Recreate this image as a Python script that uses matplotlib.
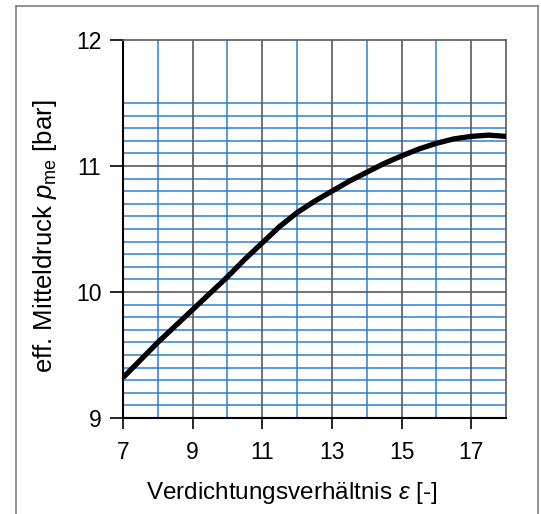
import matplotlib
matplotlib.use("Agg")
import matplotlib.pyplot as plt
from matplotlib.lines import Line2D

# Data
eps = [7, 7.5, 8, 8.5, 9, 9.5, 10, 10.5, 11, 11.5, 12, 12.5, 13, 13.5, 14,
       14.5, 15, 15.5, 16, 16.5, 17, 17.5, 18]
pme = [9.32, 9.46, 9.60, 9.73, 9.86, 9.99, 10.12, 10.26, 10.39, 10.52, 10.63,
       10.72, 10.80, 10.88, 10.95, 11.02, 11.08, 11.135, 11.18, 11.215, 11.235,
       11.245, 11.235]

x_ticks = [7, 9, 11, 13, 15, 17]
y_ticks = [9, 10, 11, 12]
x_major_grid = [9, 11, 13, 15, 17]
x_minor_grid = [8, 10, 12, 14, 16]
y_major_grid = [10, 11]
y_minor_grid = [round(9.1 + 0.1 * i, 1) for i in range(25)]  # 9.1 .. 11.5

plt.rcParams['font.family'] = ['Liberation Sans', 'DejaVu Sans']
plt.rcParams['mathtext.fontset'] = 'custom'
plt.rcParams['mathtext.rm'] = 'Liberation Sans'
plt.rcParams['mathtext.it'] = 'Liberation Sans:italic'

fig = plt.figure(figsize=(5.41, 5.14), dpi=100)
ax = fig.add_axes([123/541, 1 - 418/514, (506 - 123)/541, (418 - 40)/514])

blue = '#2b80d6'
gray = '#5a5a5a'

for y in y_minor_grid:
    if y in (10.0, 11.0):
        continue
    ax.axhline(y, color=blue, lw=1.1, zorder=1)
for x in x_minor_grid:
    ax.axvline(x, color=blue, lw=1.1, zorder=1)
for x in x_major_grid:
    ax.axvline(x, color=gray, lw=1.2, zorder=2)
for y in y_major_grid:
    ax.axhline(y, color=gray, lw=1.2, zorder=2)

ax.plot(eps, pme, color='black', lw=3.8, solid_capstyle='butt',
        solid_joinstyle='round', zorder=5)

ax.set_xlim(7, 18)
ax.set_ylim(9, 12)
ax.set_xticks(x_ticks)
ax.set_yticks(y_ticks)
ax.tick_params(axis='x', direction='out', length=8, width=1.2, pad=8.5, labelsize=16.5)
ax.tick_params(axis='y', direction='out', length=9.5, width=1.2, pad=6, labelsize=16.5)

ax.spines['left'].set_color('black')
ax.spines['left'].set_linewidth(1.5)
ax.spines['bottom'].set_color('black')
ax.spines['bottom'].set_linewidth(1.5)
ax.spines['top'].set_color(gray)
ax.spines['top'].set_linewidth(1.2)
ax.spines['right'].set_color(gray)
ax.spines['right'].set_linewidth(1.2)

ax.set_xlabel(r'Verdichtungsverhältnis $\varepsilon$ [-]', fontsize=17.5)
ax.set_ylabel(r'eff. Mitteldruck $p_\mathregular{me}$ [bar]', fontsize=18.5)
ax.xaxis.label.set_va('center')
ax.yaxis.label.set_va('center')
ax.xaxis.set_label_coords((292 - 123) / 383, (418 - 493) / 378)
ax.yaxis.set_label_coords((45 - 123) / 383, (418 - 236) / 378)

# outer frame (open at bottom)
fc = '#808080'
fx0, fx1, fy1 = 16/541, 538/541, 1 - 6/514
fig.add_artist(Line2D([fx0, fx0], [0, fy1], transform=fig.transFigure, color=fc, lw=1.2))
fig.add_artist(Line2D([fx0, fx1], [fy1, fy1], transform=fig.transFigure, color=fc, lw=1.2))
fig.add_artist(Line2D([fx1, fx1], [fy1, 0], transform=fig.transFigure, color=fc, lw=1.2))

fig.savefig('out.png', dpi=100)
